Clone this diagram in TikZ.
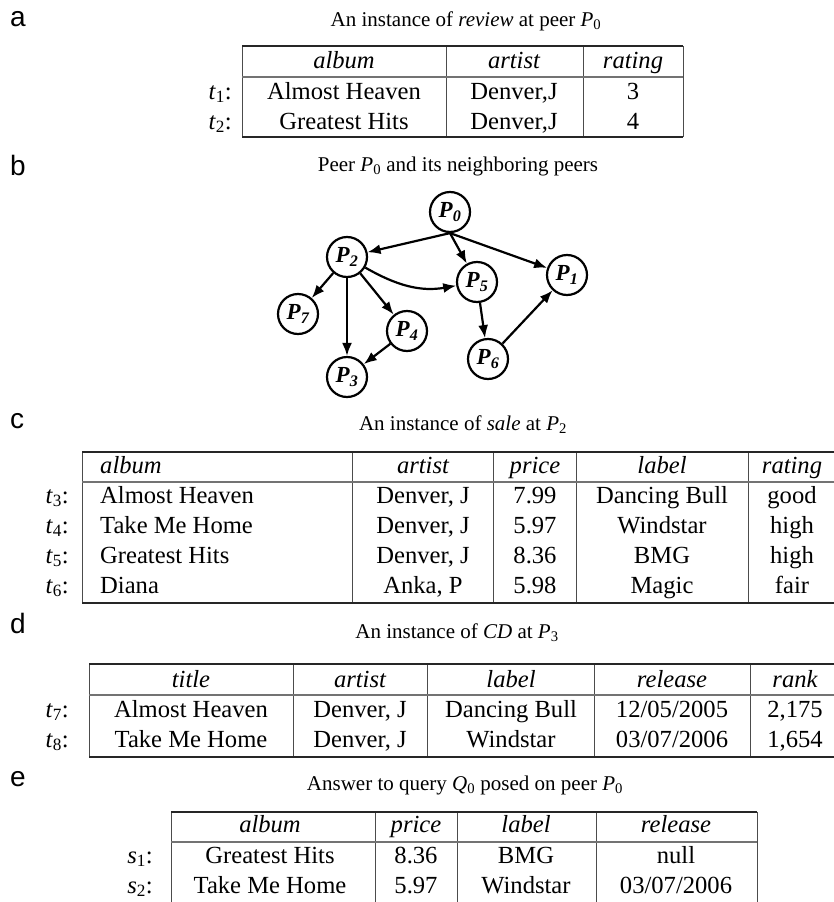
\documentclass[tikz,border=0pt]{standalone}
\usepackage{fontspec}
\setmainfont{Liberation Serif}
\newfontfamily\panelfont{Liberation Sans}
\usetikzlibrary{arrows.meta}
\newcommand{\ix}[2]{\textit{#1}\textsubscript{#2}}

\begin{document}
\begin{tikzpicture}[x=1pt, y=-1pt,
	>={Latex[length=13pt, width=10pt]},
	every node/.style={inner sep=0pt},
	panel/.style={anchor=base west, font=\panelfont\fontsize{28}{32}\selectfont},
	tabcaption/.style={anchor=base, font=\fontsize{21}{25}\selectfont},
	celltext/.style={anchor=base, font=\fontsize{24.6}{28}\selectfont},
	colname/.style={celltext, font=\fontsize{24.6}{28}\selectfont\itshape},
	rowname/.style={celltext, anchor=base east},
	tabframe/.style={line width=1.4pt, black!85},
	headrule/.style={line width=2.2pt, black!55},
	colline/.style={line width=1pt, black!70},
	peer/.style={circle, draw, line width=2.2pt, minimum size=40pt, font=\fontsize{23}{25}\selectfont\bfseries\itshape},
	link/.style={->, line width=2.2pt}]
\useasboundingbox (0,0) rectangle (834,902);

% a: review at P0
\node[panel] (la) at (10,27) {a};
\node[tabcaption] (capa) at (466,26) {An instance of \textit{review} at peer \ix{P}{0}};
\draw[colline] (242,46) -- (242,137) (446,46) -- (446,137) (583,46) -- (583,137) (683,46) -- (683,137);
\draw[tabframe] (242,46) -- (683,46) (242,137) -- (683,137);
\draw[headrule] (242,77) -- (683,77);
\node[colname] (a-album) at (344,68) {album};
\node[colname] (a-artist) at (514,68) {artist};
\node[colname] (a-rating) at (633,68) {rating};
\foreach \r/\y/\alb/\rat in {1/99/Almost Heaven/3, 2/129/Greatest Hits/4}{
	\node[rowname] (t\r) at (232,\y) {\ix{t}{\r}:};
	\node[celltext] (t\r-album) at (344,\y) {\alb};
	\node[celltext] (t\r-artist) at (514,\y) {Denver,J};
	\node[celltext] (t\r-rating) at (633,\y) {\rat};
}

% b: the peers
\node[panel] (lb) at (10,175) {b};
\node[tabcaption] (capb) at (458,171) {Peer \ix{P}{0} and its neighboring peers};
\node[peer] (P0) at (450,212) {P\textsubscript{0}};
\node[peer] (P2) at (347,257) {P\textsubscript{2}};
\node[peer] (P5) at (477,282) {P\textsubscript{5}};
\node[peer] (P1) at (567,275) {P\textsubscript{1}};
\node[peer] (P7) at (298,314) {P\textsubscript{7}};
\node[peer] (P4) at (407,331) {P\textsubscript{4}};
\node[peer] (P3) at (347,377) {P\textsubscript{3}};
\node[peer] (P6) at (488,359) {P\textsubscript{6}};
\draw[link] (P0.south) -- (P2);
\draw[link] (P0.south) -- (P5);
\draw[link] (P0.south) -- (P1);
\draw[link] (P2) -- (P7);
\draw[link] (P2) -- (P3);
\draw[link] (P2) -- (P4);
\draw[link] (P2) to[out=-30, in=190] (P5);
\draw[link] (P4) -- (P3);
\draw[link] (P5) -- (P6);
\draw[link] (P6) -- (P1);

% c: sale at P2
\node[panel] (lc) at (10,428) {c};
\node[tabcaption] (capc) at (463,430) {An instance of \textit{sale} at \ix{P}{2}};
\draw[colline] (82,452) -- (82,603) (352,452) -- (352,603) (493,452) -- (493,603) (576,452) -- (576,603) (748,452) -- (748,603) (836,452) -- (836,603);
\draw[tabframe] (82,452) -- (836,452) (82,603) -- (836,603);
\draw[headrule] (82,482) -- (836,482);
\node[colname, anchor=base west] (c-album) at (100,473) {album};
\node[colname] (c-artist) at (423,473) {artist};
\node[colname] (c-price) at (535,473) {price};
\node[colname] (c-label) at (662,473) {label};
\node[colname] (c-rating) at (792,473) {rating};
\foreach \r/\y/\alb/\art/\pr/\lab/\rat in {3/503/Almost Heaven/{Denver, J}/7.99/Dancing Bull/good,
	4/533/Take Me Home/{Denver, J}/5.97/Windstar/high,
	5/563/Greatest Hits/{Denver, J}/8.36/BMG/high,
	6/593/Diana/{Anka, P}/5.98/Magic/fair}{
	\node[rowname] (t\r) at (69,\y) {\ix{t}{\r}:};
	\node[celltext, anchor=base west] (t\r-album) at (100,\y) {\alb};
	\node[celltext] (t\r-artist) at (423,\y) {\art};
	\node[celltext] (t\r-price) at (535,\y) {\pr};
	\node[celltext] (t\r-label) at (662,\y) {\lab};
	\node[celltext] (t\r-rating) at (792,\y) {\rat};
}

% d: CD at P3
\node[panel] (ld) at (10,633) {d};
\node[tabcaption] (capd) at (457,638) {An instance of \textit{CD} at \ix{P}{3}};
\draw[colline] (89,664) -- (89,757) (293,664) -- (293,757) (427,664) -- (427,757) (594,664) -- (594,757) (750,664) -- (750,757) (840,664) -- (840,757);
\draw[tabframe] (89,664) -- (840,664) (89,757) -- (840,757);
\draw[headrule] (89,695) -- (840,695);
\node[colname] (d-title) at (191,687) {title};
\node[colname] (d-artist) at (360,687) {artist};
\node[colname] (d-label) at (511,687) {label};
\node[colname] (d-release) at (672,687) {release};
\node[colname] (d-rank) at (795,687) {rank};
\foreach \r/\y/\tit/\lab/\rel/\rnk in {7/717/Almost Heaven/Dancing Bull/12\slash 05\slash 2005/{2,175},
	8/747/Take Me Home/Windstar/03\slash 07\slash 2006/{1,654}}{
	\node[rowname] (t\r) at (69,\y) {\ix{t}{\r}:};
	\node[celltext] (t\r-title) at (191,\y) {\tit};
	\node[celltext] (t\r-artist) at (360,\y) {Denver, J};
	\node[celltext] (t\r-label) at (511,\y) {\lab};
	\node[celltext] (t\r-release) at (672,\y) {\rel};
	\node[celltext] (t\r-rank) at (795,\y) {\rnk};
}

% e: answer to Q0
\node[panel] (le) at (10,786) {e};
\node[tabcaption] (cape) at (465,790) {Answer to query \ix{Q}{0} posed on peer \ix{P}{0}};
\draw[colline] (171,812) -- (171,902) (375,812) -- (375,902) (457,812) -- (457,902) (596,812) -- (596,902) (757,812) -- (757,902);
\draw[tabframe] (171,812) -- (757,812);
\draw[headrule] (171,842) -- (757,842);
\node[colname] (e-album) at (270,832) {album};
\node[colname] (e-price) at (416,832) {price};
\node[colname] (e-label) at (526,832) {label};
\node[colname] (e-release) at (676,832) {release};
\foreach \r/\y/\alb/\pr/\lab/\rel in {1/863/Greatest Hits/8.36/BMG/null,
	2/893/Take Me Home/5.97/Windstar/03\slash 07\slash 2006}{
	\node[rowname] (s\r) at (153,\y) {\ix{s}{\r}:};
	\node[celltext] (s\r-album) at (270,\y) {\alb};
	\node[celltext] (s\r-price) at (416,\y) {\pr};
	\node[celltext] (s\r-label) at (526,\y) {\lab};
	\node[celltext] (s\r-release) at (676,\y) {\rel};
}
\end{tikzpicture}
\end{document}
